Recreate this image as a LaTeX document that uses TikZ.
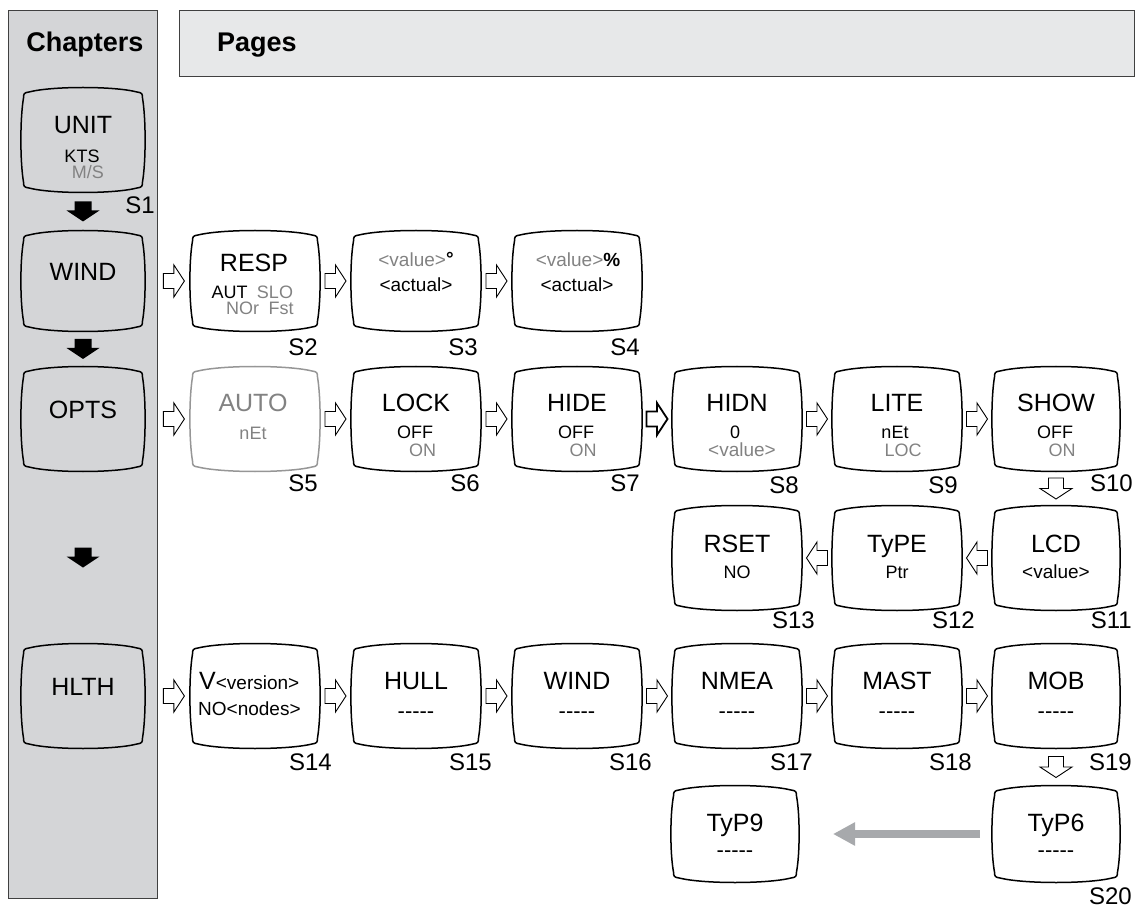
\documentclass[tikz,border=0pt]{standalone}
\usepackage{fontspec}
\setmainfont{Liberation Sans}
\usetikzlibrary{calc,arrows.meta}
\definecolor{panelgray}{RGB}{212,213,215}
\definecolor{hdrgray}{RGB}{231,232,233}
\definecolor{txtgray}{RGB}{130,130,130}
\definecolor{boxgray}{RGB}{150,150,150}
\definecolor{arrgray}{RGB}{167,169,172}
\newcommand\ftitle{\fontsize{25}{30}\selectfont}
\newcommand\fsmallx{\fontsize{18}{22}\selectfont}
\newcommand\fanglex{\fontsize{19}{23}\selectfont}
\newcommand\flabx{\fontsize{24}{28}\selectfont}
\newcommand\fhead{\fontsize{27}{31}\selectfont\bfseries}
\newcommand\scrn[6][]{%
 \node[scrbox,minimum width={2*#5},minimum height={2*#6}] (#2) at (#3,#4) {};
 \draw[scrline,#1,shift={(#2.center)}]
   ({-#5+8},{-#6+5}) .. controls ({-0.5*#5},{-#6-1}) and ({0.5*#5},{-#6-1}) .. ({#5-8},{-#6+5})
   .. controls ({#5-3},{-#6+5.5}) and ({#5-2.5},{-#6+7}) .. ({#5-2.5},{-#6+11})
   .. controls ({#5+1},{-0.4*#6}) and ({#5+1},{0.4*#6}) .. ({#5-2.5},{#6-11})
   .. controls ({#5-2.5},{#6-7}) and ({#5-3},{#6-5.5}) .. ({#5-8},{#6-5})
   .. controls ({0.5*#5},{#6+1}) and ({-0.5*#5},{#6+1}) .. ({-#5+8},{#6-5})
   .. controls ({-#5+3},{#6-5.5}) and ({-#5+2.5},{#6-7}) .. ({-#5+2.5},{#6-11})
   .. controls ({-#5-1},{0.4*#6}) and ({-#5-1},{-0.4*#6}) .. ({-#5+2.5},{-#6+11})
   .. controls ({-#5+2.5},{-#6+7}) and ({-#5+3},{-#6+5.5}) .. ({-#5+8},{-#6+5}) -- cycle;}
\tikzset{
 scrbox/.style={draw=none,inner sep=0pt,outer sep=0pt},
 scrline/.style={line width=1.5pt,black},
 ttl/.style={inner sep=0pt,font=\ftitle,text height=18pt,text depth=0pt},
 sm/.style={inner sep=0pt,font=\fsmallx,text height=13pt,text depth=0pt},
 ang/.style={inner sep=0pt,font=\fanglex,text height=13.7pt,text depth=0pt},
 dsh/.style={inner sep=0pt,font=\fontsize{22}{26}\selectfont,text height=15.8pt,text depth=0pt},
 lab/.style={inner sep=0pt,font=\flabx,text height=17.3pt,text depth=0pt,anchor=east},
 gr/.style={text=txtgray},
 hollow/.style={draw=black,fill=white,line width=0.9pt,line join=miter},
 pics/rarr/.style={code={\draw[hollow] (-10.5,-7.5) -- (0,-7.5) -- (0,-16) -- (10.5,0) -- (0,16) -- (0,7.5) -- (-10.5,7.5) -- cycle;}},
 pics/barr/.style={code={\fill[black] (-10,-8.5) -- (-1,-8.5) -- (-1,-16.5) -- (10,0) -- (-1,16.5) -- (-1,8.5) -- (-10,8.5) -- cycle;}},
}
\begin{document}
\begin{tikzpicture}[x=1pt,y=-1pt]
\useasboundingbox (0,0) rectangle (1144,909);
% panels
\node[draw=black!75,line width=0.8pt,fill=panelgray,minimum width=149pt,minimum height=888pt,anchor=north west,inner sep=0pt] (panel) at (8,10) {};
\node[draw=black!75,line width=0.8pt,fill=hdrgray,minimum width=955pt,minimum height=66pt,anchor=north west,inner sep=0pt] (hdr) at (179,10) {};
\node[font=\fhead,inner sep=0pt,text height=19.4pt,text depth=0pt] (chaptitle) at (85,42) {Chapters};
\node[font=\fhead,inner sep=0pt,text height=19.4pt,text depth=0pt,anchor=west] (pagetitle) at (217,42) {Pages};
% chapter screens
\scrn{cu}{83}{140}{62}{53}
\scrn{cw}{83}{281}{62}{51}
\scrn{co}{83}{419}{62}{53}
\scrn{ch}{83}{696}{62}{53}
\node[ttl] (cut) at (83,125) {UNIT};
\node[sm] (cua) at (82,156) {KTS};
\node[sm,gr] (cub) at (88,172) {M/S};
\node[ttl] (cwt) at (83,272) {WIND};
\node[ttl] (cot) at (83,410) {OPTS};
\node[ttl] (cht) at (83,686) {HLTH};
\pic[rotate=-90] at ($(cu.south)!.5!(cw.north)$) {barr};
\pic[rotate=-90] at ($(cw.south)!.5!(co.north)$) {barr};
\pic[rotate=-90] at ($(co.south)!.5!(ch.north)$) {barr};
% row 1
\scrn{s2}{255}{281}{65}{51}
\scrn{s3}{416}{281}{65}{51}
\scrn{s4}{577}{281}{65}{51}
\node[ttl] (s2t) at (254,263) {RESP};
\node[sm] (s2a) at (229.5,292) {AUT};
\node[sm,gr] (s2b) at (275,292) {SLO};
\node[sm,gr] (s2c) at (242.5,308) {NOr};
\node[sm,gr] (s2d) at (281,308) {Fst};
\node[ang] (s3t) at (416,260) {\textcolor{txtgray}{<value>}\raisebox{1pt}{\bfseries °}};
\node[ang] (s3a) at (416,285) {<actual>};
\node[ang] (s4t) at (578,260) {\textcolor{txtgray}{<value>}\textbf{\%}};
\node[ang] (s4a) at (577,285) {<actual>};
\pic at ($(panel.east |- s2.west)!.5!(s2.west)$) {rarr};
\pic at ($(s2.east)!.5!(s3.west)$) {rarr};
\pic at ($(s3.east)!.5!(s4.west)$) {rarr};
% row 2
\scrn[draw=boxgray]{s5}{255}{419}{65}{53}
\scrn{s6}{416}{419}{65}{53}
\scrn{s7}{577}{419}{65}{53}
\scrn{s8}{737}{419}{65}{53}
\scrn{s9}{897}{419}{65}{53}
\scrn{s10}{1056}{419}{64}{53}
\node[ttl,gr] (s5t) at (253,403) {AUTO};
\node[sm,gr] (s5a) at (253,433) {nEt};
\node[ttl] (s6t) at (416,403) {LOCK};
\node[sm] (s6a) at (415,432) {OFF};
\node[sm,gr] (s6b) at (422.5,450) {ON};
\node[ttl] (s7t) at (577,403) {HIDE};
\node[sm] (s7a) at (576,432) {OFF};
\node[sm,gr] (s7b) at (583,450) {ON};
\node[ttl] (s8t) at (737,403) {HIDN};
\node[sm] (s8a) at (735,432) {0};
\node[ang,gr] (s8b) at (742,450) {<value>};
\node[ttl] (s9t) at (897,403) {LITE};
\node[sm] (s9a) at (895,432) {nEt};
\node[sm,gr] (s9b) at (903,450) {LOC};
\node[ttl] (s10t) at (1056,403) {SHOW};
\node[sm] (s10a) at (1055,432) {OFF};
\node[sm,gr] (s10b) at (1062,450) {ON};
\pic at ($(panel.east |- s5.west)!.5!(s5.west)$) {rarr};
\pic at ($(s5.east)!.5!(s6.west)$) {rarr};
\pic at ($(s6.east)!.5!(s7.west)$) {rarr};
\pic[hollow/.append style={line width=1.8pt}] at ($(s7.east)!.5!(s8.west)$) {rarr};
\pic at ($(s8.east)!.5!(s9.west)$) {rarr};
\pic at ($(s9.east)!.5!(s10.west)$) {rarr};
% row 3
\scrn{s11}{1056}{558}{64}{53}
\scrn{s12}{897}{558}{65}{53}
\scrn{s13}{737}{558}{65}{53}
\node[ttl] (s11t) at (1056,543) {LCD};
\node[ang] (s11a) at (1056,572) {<value>};
\node[ttl] (s12t) at (897,543) {TyPE};
\node[sm] (s12a) at (897,572) {Ptr};
\node[ttl] (s13t) at (737,543) {RSET};
\node[sm] (s13a) at (737,572) {NO};
\pic[rotate=-90] at ($(s10.south)!.5!(s11.north)$) {rarr};
\pic[rotate=180] at ($(s11.west)!.5!(s12.east)$) {rarr};
\pic[rotate=180] at ($(s12.west)!.5!(s13.east)$) {rarr};
% row 4
\scrn{s14}{255}{696}{65}{53}
\scrn{s15}{416}{696}{65}{53}
\scrn{s16}{577}{696}{65}{53}
\scrn{s17}{737}{696}{65}{53}
\scrn{s18}{897}{696}{65}{53}
\scrn{s19}{1056}{696}{64}{53}
\node[inner sep=0pt,anchor=base west] (s14t) at (199,689) {\ftitle V\fanglex <version>};
\node[inner sep=0pt,anchor=base west,font=\fanglex] (s14a) at (198,715) {NO<nodes>};
\node[ttl] (s15t) at (416,680) {HULL};
\node[dsh] (s15a) at (416,711) {-{}-{}-{}-{}-};
\node[ttl] (s16t) at (577,680) {WIND};
\node[dsh] (s16a) at (577,711) {-{}-{}-{}-{}-};
\node[ttl] (s17t) at (737,680) {NMEA};
\node[dsh] (s17a) at (737,711) {-{}-{}-{}-{}-};
\node[ttl] (s18t) at (897,680) {MAST};
\node[dsh] (s18a) at (897,711) {-{}-{}-{}-{}-};
\node[ttl] (s19t) at (1056,680) {MOB};
\node[dsh] (s19a) at (1056,711) {-{}-{}-{}-{}-};
\pic at ($(panel.east |- s14.west)!.5!(s14.west)$) {rarr};
\pic at ($(s14.east)!.5!(s15.west)$) {rarr};
\pic at ($(s15.east)!.5!(s16.west)$) {rarr};
\pic at ($(s16.east)!.5!(s17.west)$) {rarr};
\pic at ($(s17.east)!.5!(s18.west)$) {rarr};
\pic at ($(s18.east)!.5!(s19.west)$) {rarr};
% row 5
\scrn{s20}{1056}{834}{64}{49}
\scrn{t9}{735}{834}{64}{49}
\node[ttl] (s20t) at (1056,822) {TyP6};
\node[dsh] (s20a) at (1056,850) {-{}-{}-{}-{}-};
\node[ttl] (t9t) at (735,822) {TyP9};
\node[dsh] (t9a) at (735,850) {-{}-{}-{}-{}-};
\pic[rotate=-90] at ($(s19.south)!.5!(s20.north)$) {rarr};
\draw[arrgray,line width=8pt,shorten <=12pt,shorten >=34pt,-{Triangle[length=22pt,width=22pt]}] (s20.west) -- (t9.east);
% labels
\node[lab] (l1) at (155,205) {S1};
\node[lab] (l2) at (318,347) {S2};
\node[lab] (l3) at (478,347) {S3};
\node[lab] (l4) at (640,347) {S4};
\node[lab] (l5) at (318,483) {S5};
\node[lab] (l6) at (480,483) {S6};
\node[lab] (l7) at (640,483) {S7};
\node[lab] (l8) at (799,485) {S8};
\node[lab] (l9) at (958,485) {S9};
\node[lab] (l10) at (1133,483) {S10};
\node[lab] (l13) at (815,620) {S13};
\node[lab] (l12) at (975,620) {S12};
\node[lab] (l11) at (1132,620) {S11};
\node[lab] (l14) at (332,762) {S14};
\node[lab] (l15) at (492,762) {S15};
\node[lab] (l16) at (652,762) {S16};
\node[lab] (l17) at (813,762) {S17};
\node[lab] (l18) at (972,762) {S18};
\node[lab] (l19) at (1132,762) {S19};
\node[lab] (l20) at (1132,896) {S20};
\end{tikzpicture}
\end{document}
